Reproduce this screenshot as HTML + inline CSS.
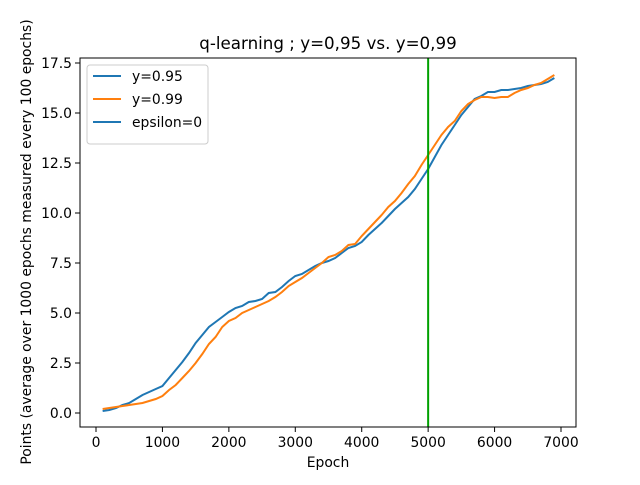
<!DOCTYPE html>
<html><head><meta charset="utf-8"><style>body{margin:0;background:#fff}svg{font-family:"DejaVu Sans","Liberation Sans",sans-serif}</style></head>
<body>
<svg id="c" width="640" height="480" viewBox="0 0 640 480"></svg>
<script>
const epochs=[];for(let e=100;e<=6900;e+=100)epochs.push(e);
const g95=[0.1,0.15,0.25,0.4,0.5,0.7,0.9,1.05,1.2,1.35,1.75,2.15,2.55,3.0,3.5,3.9,4.3,4.55,4.8,5.05,5.25,5.35,5.55,5.6,5.7,6.0,6.05,6.3,6.6,6.85,6.95,7.15,7.35,7.5,7.6,7.75,8.0,8.25,8.35,8.55,8.9,9.2,9.5,9.85,10.2,10.5,10.8,11.2,11.7,12.2,12.8,13.4,13.9,14.4,14.9,15.3,15.7,15.85,16.05,16.05,16.15,16.15,16.2,16.25,16.35,16.4,16.45,16.55,16.75];
const g99=[0.2,0.25,0.3,0.35,0.4,0.45,0.5,0.6,0.7,0.85,1.15,1.4,1.75,2.1,2.5,2.95,3.45,3.8,4.3,4.6,4.75,5.0,5.15,5.3,5.45,5.6,5.8,6.05,6.35,6.55,6.75,7.0,7.25,7.5,7.8,7.9,8.1,8.4,8.45,8.85,9.2,9.55,9.9,10.3,10.6,11.0,11.45,11.85,12.4,12.9,13.4,13.9,14.3,14.6,15.1,15.45,15.65,15.8,15.8,15.75,15.8,15.8,16.0,16.15,16.25,16.4,16.5,16.7,16.9];
const vline=[5000];
const xTicks=[0,1000,2000,3000,4000,5000,6000,7000];
const yTicks=[0,2.5,5,7.5,10,12.5,15,17.5];
const yLabels=["0.0","2.5","5.0","7.5","10.0","12.5","15.0","17.5"];
const L=80,R=576,T=58,B=427;
const X=v=>96+v*(561-96)/7000;
const Y=v=>413-v*20;
const s=document.getElementById('c');const NS='http://www.w3.org/2000/svg';
function el(t,a,txt){const e=document.createElementNS(NS,t);for(const k in a)e.setAttribute(k,a[k]);if(txt!==undefined)e.textContent=txt;s.appendChild(e);return e;}
let e;
xTicks.forEach(v=>{e=el('line',{x1:X(v),x2:X(v),y1:B,y2:B+5,stroke:'#000'});
e=el('text',{x:X(v),y:B+20,'font-size':13.9,'text-anchor':'middle'},String(v));});
yTicks.forEach((v,i)=>{e=el('line',{x1:L-5,x2:L,y1:Y(v),y2:Y(v),stroke:'#000'});
e=el('text',{x:L-8,y:Y(v)+5,'font-size':13.9,'text-anchor':'end'},yLabels[i]);});
function line(d,c,n){e=el('polyline',{points:d.map((v,i)=>X(epochs[i])+','+Y(v)).join(' '),fill:'none',stroke:c,'stroke-width':2});}
line(g95,'#1f77b4','series-y095');line(g99,'#ff7f0e','series-y099');
vline.forEach(v=>{e=el('line',{x1:X(v),x2:X(v),y1:T,y2:B,stroke:'#00a000','stroke-width':2});});
e=el('rect',{x:L,y:T,width:R-L,height:B-T,fill:'none',stroke:'#000','stroke-width':1});
e=el('text',{x:328,y:49,'font-size':16.7,'text-anchor':'middle'},'q-learning ; y=0,95 vs. y=0,99');
e=el('text',{x:328,y:467,'font-size':13.9,'text-anchor':'middle'},'Epoch');
e=el('text',{x:31,y:242,'font-size':13.9,'text-anchor':'middle',transform:'rotate(-90 31 242)'},'Points (average over 1000 epochs measured every 100 epochs)');
e=el('rect',{x:87,y:65,width:121,height:79,fill:'#fff',stroke:'#ccc',rx:3});
[['y=0.95','#1f77b4'],['y=0.99','#ff7f0e'],['epsilon=0','#1f77b4']].forEach((l,i)=>{const yy=76+i*23;
e=el('line',{x1:93,x2:121,y1:yy,y2:yy,stroke:l[1],'stroke-width':2});
e=el('text',{x:132,y:yy+5,'font-size':13.9},l[0]);});
</script>
</body></html>
